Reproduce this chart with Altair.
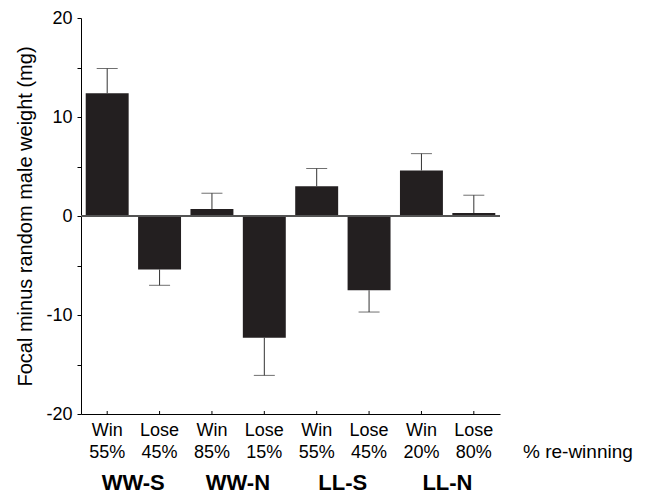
import altair as alt
import pandas as pd

# ---- data ----
keys = ["0", "1", "2", "3", "4", "5", "6", "7"]
outcome = ["Win", "Lose", "Win", "Lose", "Win", "Lose", "Win", "Lose"]
pct = ["55%", "45%", "85%", "15%", "55%", "45%", "20%", "80%"]
means = [12.4, -5.4, 0.7, -12.3, 3.0, -7.5, 4.6, 0.3]
err_end = [14.9, -7.0, 2.3, -16.1, 4.8, -9.7, 6.3, 2.1]
groups = ["WW-S", "WW-N", "LL-S", "LL-N"]
group_first = ["0", "2", "4", "6"]

W, H = 419, 396
FONT = "Liberation Sans"
BAR = "#231f20"

df = pd.DataFrame({"k": keys, "outcome": outcome, "pct": pct, "mean": means, "err": err_end})
gdf = pd.DataFrame({"k": group_first, "g": groups})

xscale = alt.Scale(domain=keys, paddingInner=0.18, paddingOuter=0.09)
xaxis = alt.Axis(labels=False, ticks=False, title=None, domainColor="black", domainWidth=1)
yscale = alt.Scale(domain=[-20, 20], nice=False)
yaxis = alt.Axis(
    values=[-20, -15, -10, -5, 0, 5, 10, 15, 20],
    labelExpr="datum.value % 10 == 0 ? '' + datum.value : ''",
    tickSize=4, tickColor="black", domainColor="black", grid=False,
    labelFont=FONT, labelFontSize=18, labelColor="black", labelPadding=5,
    title="Focal minus random male weight (mg)", titleFont=FONT, titleFontSize=20,
    titleFontWeight="normal", titleColor="black", titlePadding=10, titleLimit=1000,
)

X = alt.X("k:N", scale=xscale, axis=xaxis)

bars = alt.Chart(df).mark_bar(color=BAR).encode(
    x=X, y=alt.Y("mean:Q", scale=yscale, axis=yaxis)
)

zero = alt.Chart(df).mark_rule(color="#555", strokeWidth=1).encode(
    x=alt.value(0), x2=alt.value(W), y=alt.datum(0, scale=yscale)
)

err = alt.Chart(df).mark_rule(color="#333", strokeWidth=1).encode(
    x=X, y=alt.Y("mean:Q", scale=yscale, axis=yaxis), y2="err:Q"
)
caps = alt.Chart(df).mark_tick(color="#333", size=21, thickness=1).encode(
    x=X, y=alt.Y("err:Q", scale=yscale, axis=yaxis)
)

xticks = alt.Chart(df).mark_rule(color="black", strokeWidth=1).encode(
    x=X, y=alt.value(H), y2=alt.value(H - 3)
)

lab1 = alt.Chart(df).mark_text(font=FONT, fontSize=18, color="black", baseline="alphabetic").encode(
    x=X, y=alt.value(H + 22), text="outcome:N"
)
lab2 = alt.Chart(df).mark_text(font=FONT, fontSize=18, color="black", baseline="alphabetic").encode(
    x=X, y=alt.value(H + 44), text="pct:N"
)
glab = alt.Chart(gdf).mark_text(font=FONT, fontSize=22, fontWeight="bold", color="black",
                                baseline="alphabetic", dx=26).encode(
    x=X, y=alt.value(H + 76), text="g:N"
)
rewin = alt.Chart(pd.DataFrame({"t": ["% re-winning"]})).mark_text(
    font=FONT, fontSize=19, color="black", baseline="alphabetic", align="left"
).encode(x=alt.value(W + 23), y=alt.value(H + 44), text="t:N")

chart = alt.layer(bars, zero, err, caps, xticks, lab1, lab2, glab, rewin).properties(
    width=W, height=H,
    autosize=alt.AutoSizeParams(type="none"),
    padding={"left": 73, "top": 10, "right": 147, "bottom": 85},
).configure_view(stroke=None).configure_axis(domainWidth=1)

chart.save("out.html", embed_options={"renderer": "svg", "actions": False})
